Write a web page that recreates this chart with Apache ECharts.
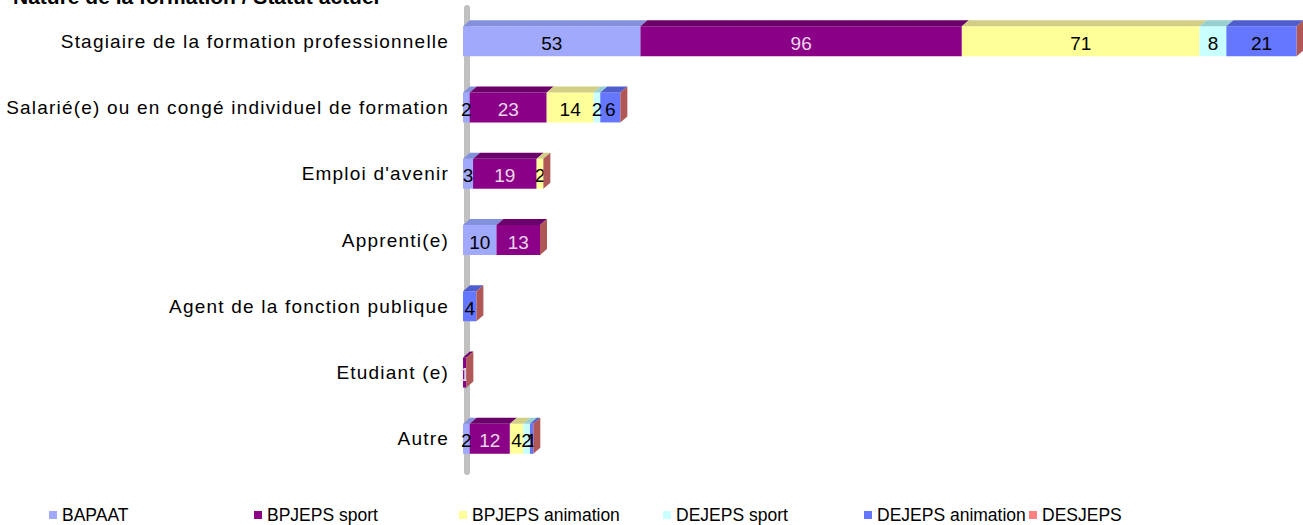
<!DOCTYPE html>
<html><head><meta charset="utf-8">
<script src="https://cdn.jsdelivr.net/npm/echarts@6/dist/echarts.min.js"></script>
<style>html,body{margin:0;padding:0;background:#fff}#c{width:1303px;height:525px}
#c svg text[style*="Arial"], #c svg text[font-family*="Arial"]{letter-spacing:1.2px}</style>
</head><body><div id="c"></div>
<script>
const categories = ["Stagiaire de la formation professionnelle","Salarié(e) ou en congé individuel de formation","Emploi d'avenir","Apprenti(e)","Agent de la fonction publique","Etudiant (e)","Autre"];
const BAPAAT = [53, 2, 3, 10, 0, 0, 2];
const BPJEPS_sport = [96, 23, 19, 13, 0, 1, 12];
const BPJEPS_animation = [71, 14, 2, 0, 0, 0, 4];
const DEJEPS_sport = [8, 2, 0, 0, 0, 0, 2];
const DEJEPS_animation = [21, 6, 0, 0, 4, 0, 1];
const DESJEPS = [0, 0, 0, 0, 0, 0, 0];

const seriesNames = ["BAPAAT","BPJEPS sport","BPJEPS animation","DEJEPS sport","DEJEPS animation","DESJEPS"];
const seriesData = [BAPAAT, BPJEPS_sport, BPJEPS_animation, DEJEPS_sport, DEJEPS_animation, DESJEPS];
const colors = ['#a0a9fb','#8a0087','#ffff99','#c8ffff','#6677ff','#ff8080'];
const topColors = ['#8390dc','#6c006a','#d2cf84','#98cfd0','#4f5ecc','#c06060'];
const sideColor = '#b05858';
const labelColors = ['#000','#ead8ea','#000','#000','#000','#000'];
const legendLeft = [44, 249, 454, 658, 859, 1024];

const FONT = 'Liberation Sans';
const SPACED = 'Arial';
const chart = echarts.init(document.getElementById('c'), null, { renderer: 'svg' });
const BW = 30, DX = 7, DY = 6;

const bars = seriesNames.map((n, i) => ({
  name: n, type: 'bar', stack: 'total', barWidth: BW, z: 2,
  data: seriesData[i],
  itemStyle: { color: colors[i] },
  label: {
    show: true, position: 'inside', color: labelColors[i],
    fontFamily: FONT, fontSize: 19, offset: [0, 2],
    formatter: p => p.value > 0 ? String(p.value) : ''
  },
  emphasis: { disabled: true }
}));

const faces = {
  type: 'custom', silent: true, z: 3,
  data: categories.map((c, i) => [0, i]),
  encode: { x: 0, y: 1 },
  renderItem: function (params, api) {
    const idx = api.value(1);
    const children = [];
    let cum = 0;
    let yTop = null, yBot = null;
    for (let s = 0; s < seriesData.length; s++) {
      const v = seriesData[s][idx];
      const p0 = api.coord([cum, idx]);
      yTop = p0[1] - BW / 2; yBot = p0[1] + BW / 2;
      if (v > 0) {
        const p1 = api.coord([cum + v, idx]);
        children.push({
          type: 'polygon',
          shape: { points: [[p0[0], yTop], [p1[0], yTop], [p1[0] + DX, yTop - DY], [p0[0] + DX, yTop - DY]] },
          style: { fill: topColors[s] }
        });
      }
      cum += v;
    }
    const pe = api.coord([cum, idx]);
    children.push({
      type: 'polygon',
      shape: { points: [[pe[0], yTop], [pe[0] + DX, yTop - DY], [pe[0] + DX, yBot - DY], [pe[0], yBot]] },
      style: { fill: sideColor }
    });
    return { type: 'group', children: children };
  }
};

const legends = seriesNames.map((n, i) => ({
  data: [n], left: legendLeft[i], bottom: -4,
  itemWidth: 8, itemHeight: 8, icon: 'rect', selectedMode: false,
  textStyle: { fontFamily: FONT, fontSize: 17.5, color: '#000', padding: [14, 0, 0, 0] }
}));

chart.setOption({
  animation: false,
  title: {
    text: 'Nature de la formation / Statut actuel', left: 8, top: -19,
    textStyle: { fontFamily: FONT, fontSize: 21, fontWeight: 'bold', color: '#000' }
  },
  grid: { left: 463, right: 3, top: 8, bottom: 53 },
  xAxis: { type: 'value', min: 0, max: 250, show: false },
  yAxis: {
    type: 'category', data: categories, inverse: true, offset: -4, z: 0,
    axisLine: { show: true, lineStyle: { color: '#c0c0c0', width: 6 } },
    axisTick: { show: false },
    axisLabel: { fontFamily: SPACED, fontSize: 19, color: '#000', margin: 18 }
  },
  legend: legends,
  series: bars.concat([faces])
});
</script></body></html>
